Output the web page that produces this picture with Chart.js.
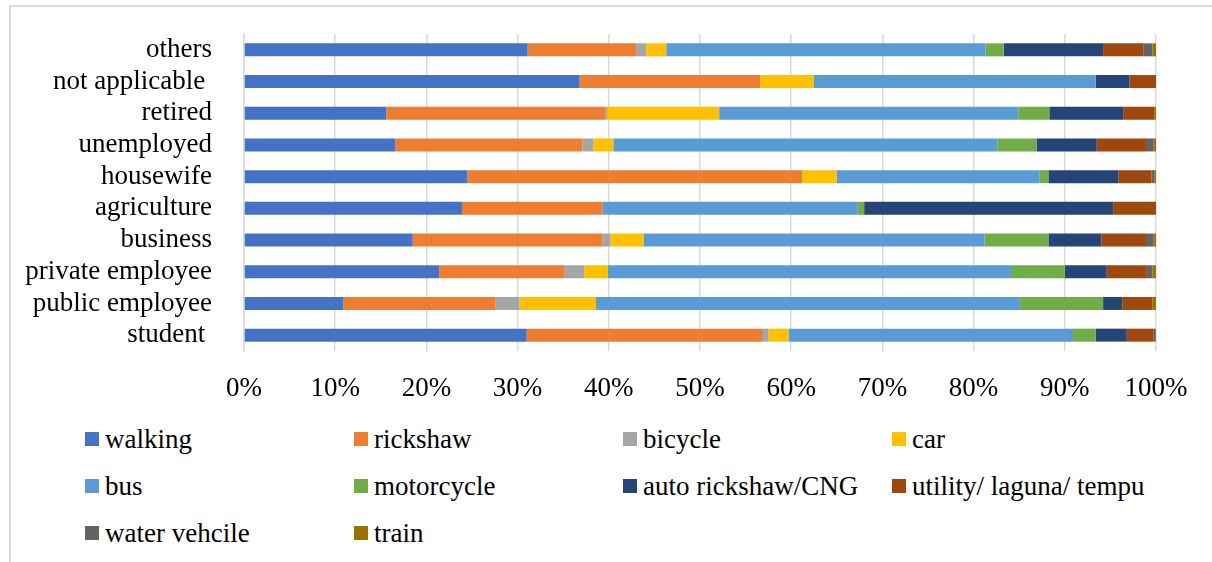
<!DOCTYPE html>
<html>
<head>
<meta charset="utf-8">
<script src="https://cdn.jsdelivr.net/npm/chart.js@4.4.1/dist/chart.umd.min.js"></script>
<style>
  body { margin: 0; background: #fff; }
  #frame {
    position: absolute; left: 9px; top: 5px; width: 1220px; height: 600px;
    border-left: 2px solid #d9d9d9; border-top: 2px solid #d9d9d9;
  }
  #wrap { position: absolute; left: 0; top: 0; width: 1212px; height: 410px; }
  #legend {
    position: absolute; left: 85px; top: 425px;
    display: grid; grid-template-columns: repeat(4, 269px); row-gap: 19px;
    font-family: "Liberation Serif", "Times New Roman", "DejaVu Serif", serif;
    font-size: 27px; color: #000;
  }
  .item { display: flex; align-items: center; height: 28px; white-space: nowrap;
    font-family: "Liberation Serif", "Times New Roman", serif; }
  .box { width: 14px; height: 14px; margin-right: 6px; flex: none; }
</style>
</head>
<body>
<div id="frame"></div>
<div id="wrap"><canvas id="grafico"></canvas></div>
<div id="legend"></div>
<script>
// categorias (de arriba hacia abajo)
const categorias = ['others', 'not applicable ', 'retired', 'unemployed', 'housewife',
  'agriculture', 'business', 'private employee', 'public employee', 'student '];

// porcentaje de cada modo por categoria
const walking      = [31.1, 36.8, 15.6, 16.6, 24.5, 23.9, 18.5, 21.4, 10.9, 31.0];
const rickshaw     = [11.9, 19.8, 24.0, 20.5, 36.7, 15.4, 20.8, 13.7, 16.7, 25.8];
const bicycle      = [1.1, 0, 0.2, 1.2, 0, 0, 0.9, 2.2, 2.6, 0.7];
const car          = [2.2, 5.9, 12.3, 2.2, 3.8, 0, 3.6, 2.6, 8.4, 2.2];
const bus          = [35.0, 30.9, 32.8, 42.1, 22.2, 28.0, 37.4, 44.2, 46.5, 31.2];
const motorcycle   = [2.0, 0, 3.4, 4.3, 1.0, 0.7, 7.0, 5.9, 9.1, 2.5];
const autoRickshaw = [10.9, 3.7, 8.1, 6.6, 7.7, 27.3, 5.8, 4.6, 2.1, 3.4];
const utility      = [4.4, 2.9, 3.4, 5.4, 3.6, 4.7, 4.9, 4.4, 3.3, 2.9];
const waterVehicle = [1.0, 0, 0, 0.8, 0.3, 0, 0.8, 0.6, 0, 0.2];
const train        = [0.4, 0, 0.2, 0.3, 0.2, 0, 0.3, 0.4, 0.4, 0.1];

const nombres = ['walking', 'rickshaw', 'bicycle', 'car', 'bus', 'motorcycle',
  'auto rickshaw/CNG', 'utility/ laguna/ tempu', 'water vehcile', 'train'];
const series = [walking, rickshaw, bicycle, car, bus, motorcycle, autoRickshaw, utility, waterVehicle, train];
const colores = ['#4472C4', '#ED7D31', '#A5A5A5', '#FFC000', '#5B9BD5', '#70AD47',
  '#264478', '#9E480E', '#636363', '#997300'];

const ticksX = [0, 10, 20, 30, 40, 50, 60, 70, 80, 90, 100];

const FUENTE = { family: 'Liberation Serif', size: 27 };

new Chart(document.getElementById('grafico'), {
  type: 'bar',
  data: {
    labels: categorias,
    datasets: series.map((d, i) => ({
      label: nombres[i],
      data: d,
      backgroundColor: colores[i],
      borderWidth: 0,
      barPercentage: 0.41,
      categoryPercentage: 1
    }))
  },
  options: {
    indexAxis: 'y',
    responsive: true,
    maintainAspectRatio: false,
    animation: false,
    layout: { padding: { top: 34, right: 56, left: 0, bottom: 0 } },
    plugins: { legend: { display: false }, tooltip: { enabled: false } },
    scales: {
      x: {
        stacked: true,
        min: 0,
        max: 100,
        afterBuildTicks: (s) => { s.ticks = ticksX.map(v => ({ value: v })); },
        afterFit: (s) => { s.height = 410 - 351; s.paddingLeft = 0; s.paddingRight = 0; },
        grid: { color: '#d9d9d9', lineWidth: 1.5, drawTicks: false },
        border: { display: false },
        ticks: { font: FUENTE, color: '#000', padding: 22, callback: (v) => v + '%' }
      },
      y: {
        stacked: true,
        // ancho fijo y sin relleno extra arriba/abajo
        afterFit: (s) => { s.width = 244; s.paddingTop = 0; s.paddingBottom = 0; },
        grid: { display: false },
        border: { display: true, color: '#d9d9d9', width: 1.5 },
        ticks: { font: FUENTE, color: '#000', padding: 24, autoSkip: false }
      }
    }
  }
});

// leyenda en 4 columnas
const LEYENDA = document.getElementById('legend');
nombres.forEach((n, i) => {
  LEYENDA.innerHTML += `<div class="item"><span class="box" style="background:${colores[i]}"></span>${n}</div>`;
});
</script>
</body>
</html>
